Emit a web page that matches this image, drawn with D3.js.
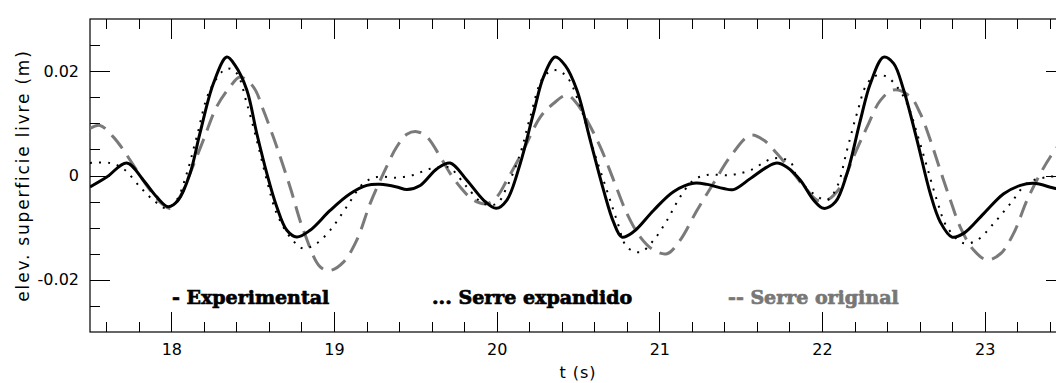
<!DOCTYPE html>
<html>
<head>
<meta charset="utf-8">
<script src="https://d3js.org/d3.v7.min.js"></script>
<style>
    body { margin: 0; background: #fff; }
    svg { display: block; }
    .tick text { font-family: "DejaVu Sans", sans-serif; font-size: 16px; fill: #000; }
    .axis path.domain { display: none; }
    .axis line { stroke: #000; shape-rendering: crispEdges; }
    .legend { font-family: "DejaVu Serif", serif; font-weight: bold; font-size: 19px; stroke-width: 0.7px; }
</style>
</head>
<body>
<div id="chart"></div>
<script>
    // Experimental (solid)
    var tExp = [17.5, 17.603, 17.726, 17.828, 17.91, 17.981, 18.043, 18.115, 18.176, 18.258, 18.341, 18.392, 18.464, 18.525, 18.587, 18.648, 18.71, 18.771, 18.853, 18.976, 19.099, 19.202, 19.284, 19.387, 19.448, 19.53, 19.633, 19.714, 19.817, 19.919, 19.997, 20.063, 20.145, 20.226, 20.288, 20.36, 20.421, 20.493, 20.575, 20.657, 20.718, 20.77, 20.841, 20.964, 21.087, 21.21, 21.293, 21.395, 21.456, 21.559, 21.661, 21.723, 21.785, 21.867, 21.948, 22.01, 22.082, 22.154, 22.236, 22.297, 22.379, 22.44, 22.502, 22.584, 22.666, 22.727, 22.799, 22.871, 22.994, 23.117, 23.22, 23.301, 23.437, 23.5];
    var vExp = [-0.0022, -0.0003, 0.0024, -0.0009, -0.0041, -0.006, -0.0047, 0.0004, 0.0081, 0.0176, 0.0227, 0.0211, 0.0164, 0.0081, 0.0004, -0.006, -0.0105, -0.0118, -0.0105, -0.0067, -0.0035, -0.0019, -0.0017, -0.0022, -0.0027, -0.0019, 0.0013, 0.0024, -0.0009, -0.0047, -0.0063, -0.0047, 0.0023, 0.0119, 0.0189, 0.0227, 0.0211, 0.0164, 0.0068, -0.0028, -0.0089, -0.0118, -0.0108, -0.0067, -0.0031, -0.0015, -0.0017, -0.0025, -0.0027, -0.0006, 0.0016, 0.0024, 0.0016, -0.0009, -0.0047, -0.0063, -0.0051, 0.0004, 0.0106, 0.0176, 0.0227, 0.0215, 0.0164, 0.0068, -0.0035, -0.0089, -0.0118, -0.0111, -0.0073, -0.0035, -0.0019, -0.0015, -0.0025, -0.0028];

    // Serre expandido (dotted)
    var tSerreExp = [17.5, 17.623, 17.705, 17.808, 17.889, 17.972, 18.033, 18.095, 18.156, 18.238, 18.341, 18.402, 18.464, 18.525, 18.587, 18.648, 18.73, 18.812, 18.894, 18.976, 19.078, 19.181, 19.263, 19.386, 19.488, 19.591, 19.704, 19.732, 19.817, 19.919, 20.001, 20.063, 20.145, 20.206, 20.288, 20.36, 20.432, 20.514, 20.595, 20.677, 20.739, 20.801, 20.883, 20.965, 21.047, 21.128, 21.21, 21.292, 21.435, 21.558, 21.702, 21.805, 21.846, 21.948, 22.031, 22.092, 22.154, 22.215, 22.277, 22.338, 22.4, 22.461, 22.523, 22.584, 22.646, 22.707, 22.769, 22.871, 22.953, 23.055, 23.158, 23.261, 23.384, 23.5];
    var vSerreExp = [0.0024, 0.0024, 0.0013, -0.0022, -0.0047, -0.0063, -0.0047, 0.0004, 0.0074, 0.0164, 0.0205, 0.0196, 0.0138, 0.0068, -0.0009, -0.0073, -0.0118, -0.014, -0.013, -0.0105, -0.006, -0.0015, -0.0003, -0.0004, 0.0001, 0.0013, 0.0016, 0.001, -0.0022, -0.0054, -0.0054, -0.0022, 0.0042, 0.0112, 0.0189, 0.0202, 0.0189, 0.0132, 0.0049, -0.0028, -0.0086, -0.0137, -0.0147, -0.0124, -0.0086, -0.0041, -0.0009, 0.0001, 0.0001, 0.001, 0.0033, 0.0026, -0.0003, -0.0035, -0.0047, -0.0022, 0.0049, 0.0119, 0.0176, 0.0192, 0.0189, 0.017, 0.0138, 0.0081, 0.0016, -0.0048, -0.0099, -0.013, -0.0124, -0.0092, -0.0054, -0.0015, -0.0003, -0.0001];

    // Serre original (dashed)
    var tSerreOrig = [17.5, 17.562, 17.643, 17.705, 17.787, 17.869, 17.941, 17.992, 18.053, 18.115, 18.197, 18.279, 18.361, 18.422, 18.504, 18.566, 18.648, 18.73, 18.812, 18.915, 18.976, 19.058, 19.14, 19.222, 19.304, 19.386, 19.448, 19.509, 19.571, 19.653, 19.714, 19.776, 19.857, 19.94, 20.001, 20.063, 20.165, 20.268, 20.349, 20.432, 20.493, 20.555, 20.637, 20.719, 20.801, 20.883, 20.965, 21.047, 21.128, 21.231, 21.333, 21.436, 21.559, 21.641, 21.723, 21.825, 21.908, 21.969, 22.031, 22.113, 22.194, 22.277, 22.359, 22.44, 22.543, 22.604, 22.666, 22.727, 22.789, 22.85, 22.932, 23.015, 23.097, 23.178, 23.261, 23.343, 23.404, 23.5];
    var vSerreOrig = [0.009, 0.0096, 0.0074, 0.0049, 0.001, -0.0028, -0.0054, -0.0063, -0.0041, 0.0004, 0.0068, 0.0132, 0.017, 0.0189, 0.017, 0.0125, 0.0055, -0.0022, -0.0105, -0.0175, -0.0182, -0.0166, -0.0124, -0.0054, 0.0004, 0.0055, 0.0079, 0.0084, 0.0074, 0.0036, 0.0004, -0.0022, -0.0047, -0.0054, -0.0041, -0.0009, 0.0049, 0.0112, 0.0138, 0.0154, 0.0138, 0.0106, 0.0055, -0.0009, -0.0073, -0.0118, -0.0143, -0.015, -0.0124, -0.0067, -0.0015, 0.0036, 0.0077, 0.0068, 0.0042, 0.0004, -0.0028, -0.0047, -0.0047, -0.0022, 0.0036, 0.0093, 0.0144, 0.0164, 0.0151, 0.0119, 0.0068, 0.001, -0.0047, -0.0099, -0.0143, -0.0162, -0.015, -0.0111, -0.0047, 0.0004, 0.0036, 0.0077];

    var xTickValues = [18, 19, 20, 21, 22, 23];
    var xTickLabels = ["18", "19", "20", "21", "22", "23"];
    var yTickValues = [-0.02, 0, 0.02];
    var yTickLabels = ["-0.02", "0", "0.02"];
    var legendLabels = ["- Experimental", "... Serre expandido", "-- Serre original"];

    var width = 1056, height = 383;
    var plotL = 90, plotR = 1066, plotT = 19, plotB = 332;

    var svg = d3.select("#chart").append("svg")
        .attr("width", width)
        .attr("height", height);

    var xScale = d3.scaleLinear().domain([17.5, 23.5]).range([plotL, plotR]);
    var yScale = d3.scaleLinear().domain([-0.03, 0.03]).range([plotB, plotT]);

    var xMinor = d3.range(17.6, 23.5, 0.2).filter(function (d) { return Math.abs(d - Math.round(d)) > 0.01; });
    var yMinor = d3.range(-0.025, 0.03, 0.005).filter(function (d) { return yTickValues.every(function (v) { return Math.abs(v - d) > 1e-4; }); });

    // frame
    svg.append("rect")
        .attr("x", plotL).attr("y", plotT)
        .attr("width", plotR - plotL).attr("height", plotB - plotT)
        .attr("fill", "none").attr("stroke", "#000").attr("stroke-width", 1.2);

    function addAxis(axis, transform) {
        svg.append("g").attr("class", "axis").attr("transform", transform).call(axis);
    }

    // bottom
    addAxis(d3.axisBottom(xScale).tickValues(xMinor).tickSize(-10).tickFormat(""), "translate(0," + plotB + ")");
    addAxis(d3.axisBottom(xScale).tickValues(xTickValues).tickSize(-20).tickPadding(12)
        .tickFormat(function (d, i) { return xTickLabels[i]; }), "translate(0," + plotB + ")");
    // top
    addAxis(d3.axisTop(xScale).tickValues(xMinor).tickSize(-10).tickFormat(""), "translate(0," + plotT + ")");
    addAxis(d3.axisTop(xScale).tickValues(xTickValues).tickSize(-20).tickFormat(""), "translate(0," + plotT + ")");
    // left
    addAxis(d3.axisLeft(yScale).tickValues(yMinor).tickSize(-10).tickFormat(""), "translate(" + plotL + ",0)");
    addAxis(d3.axisLeft(yScale).tickValues(yTickValues).tickSize(-20).tickPadding(11)
        .tickFormat(function (d, i) { return yTickLabels[i]; }), "translate(" + plotL + ",0)");
    // right
    addAxis(d3.axisRight(yScale).tickValues(yMinor).tickSize(-10).tickFormat(""), "translate(" + plotR + ",0)");
    addAxis(d3.axisRight(yScale).tickValues(yTickValues).tickSize(-20).tickFormat(""), "translate(" + plotR + ",0)");

    // axis titles
    svg.append("text")
        .attr("x", 578).attr("y", 378)
        .attr("text-anchor", "middle")
        .style("font-family", "DejaVu Sans, sans-serif").style("font-size", "16px")
        .style("letter-spacing", "1px")
        .text("t (s)");
    svg.append("text")
        .attr("transform", "translate(29," + ((plotT + plotB) / 2) + ") rotate(-90)")
        .attr("text-anchor", "middle")
        .style("font-family", "DejaVu Sans, sans-serif").style("font-size", "17px")
        .style("letter-spacing", "1.8px")
        .text("elev. superficie livre (m)");

    svg.append("clipPath").attr("id", "plotClip")
        .append("rect").attr("x", plotL).attr("y", plotT)
        .attr("width", plotR - plotL).attr("height", plotB - plotT);

    function zip(ts, vs) {
        return ts.map(function (t, i) { return [t, vs[i]]; });
    }

    var line = d3.line()
        .curve(d3.curveCatmullRom.alpha(0.5))
        .x(function (d) { return xScale(d[0]); })
        .y(function (d) { return yScale(d[1]); });

    var g = svg.append("g").attr("clip-path", "url(#plotClip)");

    g.append("path")
        .attr("d", line(zip(tSerreOrig, vSerreOrig)))
        .attr("fill", "none")
        .attr("stroke", "#7a7a7a")
        .attr("stroke-width", 3)
        .attr("stroke-dasharray", "17 9");

    g.append("path")
        .attr("d", line(zip(tSerreExp, vSerreExp)))
        .attr("fill", "none")
        .attr("stroke", "#000")
        .attr("stroke-width", 2)
        .attr("stroke-dasharray", "2 7");

    g.append("path")
        .attr("d", line(zip(tExp, vExp)))
        .attr("fill", "none")
        .attr("stroke", "#000")
        .attr("stroke-width", 3);

    // legend
    var legendX = [172, 432, 728];
    var legendColor = ["#000", "#000", "#777"];
    svg.selectAll("text.legend")
        .data(legendLabels)
        .enter()
        .append("text")
        .attr("class", "legend")
        .attr("x", function (d, i) { return legendX[i]; })
        .attr("y", 304)
        .attr("fill", function (d, i) { return legendColor[i]; })
        .attr("stroke", function (d, i) { return legendColor[i]; })
        .text(function (d) { return d; });
</script>
</body>
</html>
